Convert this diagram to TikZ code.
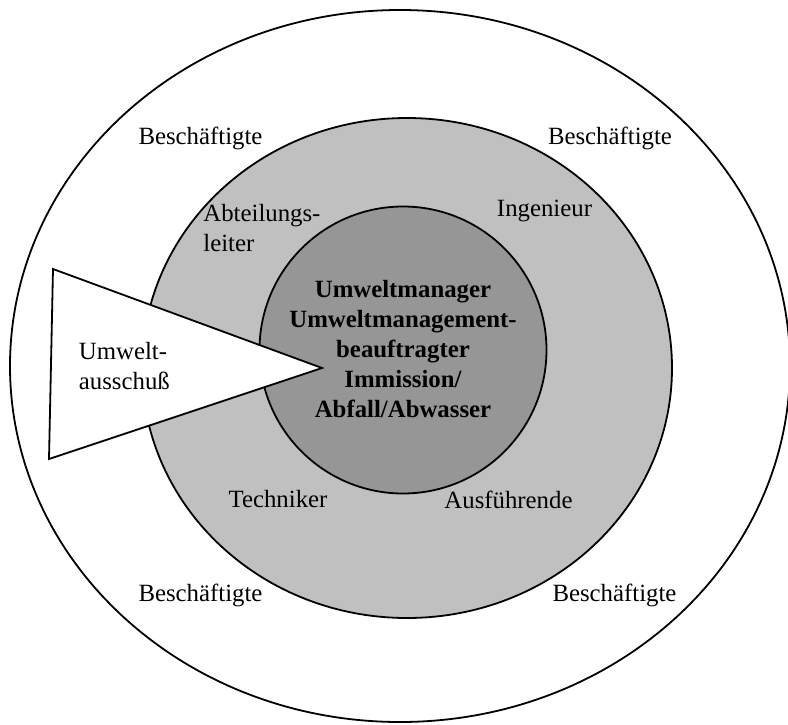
\documentclass[tikz,border=0pt]{standalone}
\usepackage{fontspec}
\setmainfont{Liberation Serif}
\usetikzlibrary{shapes.geometric}
\definecolor{ringgray}{RGB}{192,192,192}
\definecolor{coregray}{RGB}{150,150,150}
\begin{document}
\begin{tikzpicture}[x=0.5pt,y=-0.5pt,
  ring/.style={ellipse,draw,line width=0.9pt,inner sep=0pt},
  role/.style={font=\fontsize{12.4}{15}\selectfont,inner sep=0pt}]
  \useasboundingbox (0,0) rectangle (788,724);
  \node[ring,fill=white,minimum width=390pt,minimum height=356pt] (outer) at (400,366) {};
  \node[ring,fill=ringgray,minimum width=265pt,minimum height=250pt] (middle) at (407,368) {};
  \node[ring,circle,fill=coregray,minimum size=143.5pt] (inner) at (403,350) {};
  \coordinate (tritop) at (53,269);
  \coordinate (tribot) at (49,459);
  \coordinate (tritip) at (322,368);
  \draw[line width=0.9pt,fill=white,line join=miter] (tritop) -- (tritip) -- (tribot) -- cycle;
  \node[role,align=center,font=\fontsize{12.4}{15}\selectfont\bfseries] (core) at (403,349.5)
    {Umweltmanager\\Umweltmanagement-\\beauftragter\\Immission/\\Abfall/Abwasser};
  \node[role,align=left,anchor=west] (ausschuss) at (78.5,366) {Umwelt-\\ausschuß};
  \node[role,align=left,anchor=west] (leiter) at (203,228.5) {Abteilungs-\\leiter};
  \node[role] (ingenieur) at (544.5,211) {Ingenieur};
  \node[role] (techniker) at (278,499.5) {Techniker};
  \node[role] (ausfuehrende) at (508.5,499.5) {Ausführende};
  \node[role] (bes1) at (200.5,138) {Beschäftigte};
  \node[role] (bes2) at (610,138) {Beschäftigte};
  \node[role] (bes3) at (200.5,595.5) {Beschäftigte};
  \node[role] (bes4) at (614.5,595.5) {Beschäftigte};
\end{tikzpicture}
\end{document}
